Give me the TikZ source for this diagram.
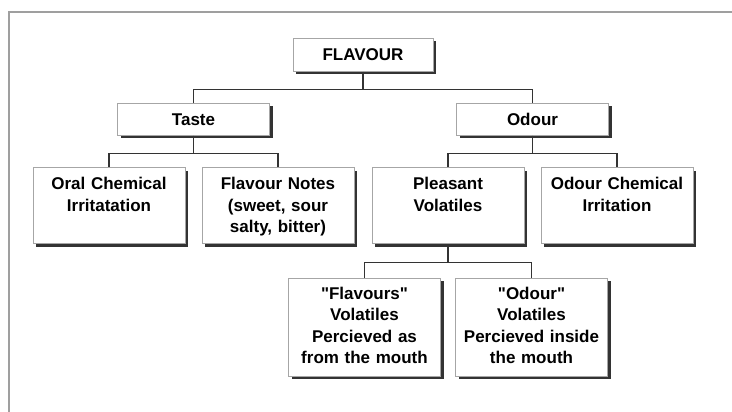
\documentclass[tikz,border=0pt]{standalone}
\usepackage{fontspec}
\setmainfont{Liberation Sans}
\usepackage{tikz}
\usetikzlibrary{shadows}

\begin{document}
\begin{tikzpicture}[
    x=1pt, y=-1pt,
    every node/.style={rectangle, draw=gray!70, fill=white, line width=0.8pt, anchor=north,
        text width=144pt, inner xsep=4pt, inner ysep=4pt, align=center,
        font=\bfseries\fontsize{17}{21.5}\selectfont,
        drop shadow={shadow xshift=3pt, shadow yshift=-3pt, fill=black!80, opacity=1}},
    topbox/.style={text width=132pt, minimum height=33pt},
    midbox/.style={minimum height=32pt},
    leafbox/.style={text height=18pt, text depth=50pt},
    lowbox/.style={text height=17pt, text depth=73pt},
    level 1/.style={sibling distance=339pt, level distance=48pt},
    level 2/.style={sibling distance=169pt, level distance=48pt},
    level 3/.style={sibling distance=167pt, level distance=72pt},
    edge from parent/.style={draw=black!80, line width=1.2pt},
    edge from parent path={(\tikzparentnode.south) -- ++(0,18) -| (\tikzchildnode.north)}
]
\useasboundingbox (0,0) rectangle (732,412);
\draw[gray!75, line width=2pt] (9,440) |- (760,12);
\node[topbox] (flavour) at (363,38) {FLAVOUR}
    child {node[midbox] (taste) {Taste}
        child {node[leafbox] (oral) {Oral Chemical\\Irritatation}}
        child {node[leafbox] (notes) {Flavour Notes\\(sweet, sour\\salty, bitter)}}
    }
    child {node[midbox] (odour) {Odour}
        child {node[leafbox] (pleasant) {Pleasant\\Volatiles}
            child {node[lowbox] (flavvol) {\textquotedbl Flavours\textquotedbl\\Volatiles\\Percieved as\\from the mouth}}
            child {node[lowbox] (odourvol) {\textquotedbl Odour\textquotedbl\\Volatiles\\Percieved inside\\the mouth}}
        }
        child {node[leafbox] (odourchem) {Odour Chemical\\Irritation}}
    };
\end{tikzpicture}
\end{document}
